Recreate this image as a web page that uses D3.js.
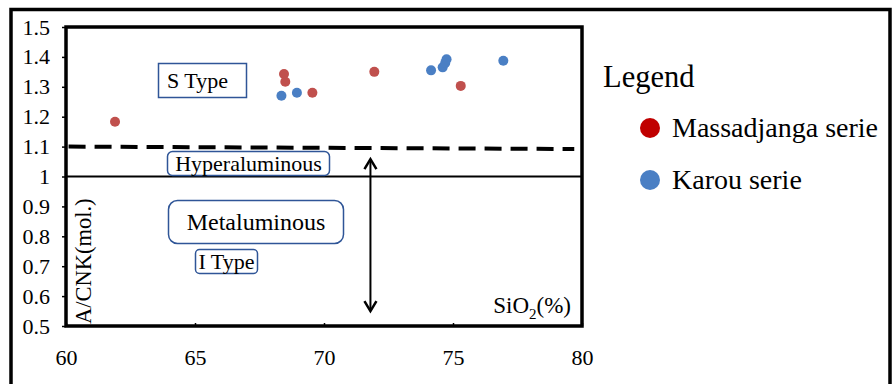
<!DOCTYPE html>
<html>
<head>
<meta charset="utf-8">
<script src="https://cdn.jsdelivr.net/npm/d3@7"></script>
<style>
  body { margin: 0; background: #fff; }
  svg text { font-family: "Liberation Serif", "Times New Roman", serif; fill: #000; }
</style>
</head>
<body>
<svg id="chart" width="896" height="384"></svg>
<script>
// data
const massadjangaSiO2 = [61.9, 68.45, 68.5, 69.55, 71.95, 75.3];
const massadjangaACNK = [1.183, 1.343, 1.317, 1.28, 1.35, 1.303];
const karouSiO2 = [68.35, 68.95, 74.15, 74.6, 74.7, 74.75, 76.95];
const karouACNK = [1.27, 1.28, 1.355, 1.365, 1.38, 1.392, 1.387];
const xTicks = [60, 65, 70, 75, 80];
const yTicks = [0.5, 0.6, 0.7, 0.8, 0.9, 1, 1.1, 1.2, 1.3, 1.4, 1.5];
const seriesNames = ["Massadjanga serie", "Karou serie"];

const svg = d3.select("#chart");
const plotLeft = 66, plotRight = 582, plotTop = 27, plotBottom = 326;

const x = d3.scaleLinear().domain([60, 80]).range([plotLeft, plotRight]);
const y = d3.scaleLinear().domain([0.5, 1.5]).range([plotBottom, plotTop]);

// outer frame
svg.append("path")
    .attr("d", "M11,384 L11,9.5 L890,9.5 L890,384")
    .attr("fill", "none")
    .attr("stroke", "#000")
    .attr("stroke-width", 3.5);

// y axis
const yAxis = svg.append("g")
    .attr("transform", `translate(${plotLeft},0)`)
    .call(d3.axisLeft(y).tickValues(yTicks).tickSize(4).tickPadding(12).tickFormat(d3.format("")));
yAxis.select(".domain").remove();
yAxis.selectAll("text").style("font-size", "22px");
yAxis.selectAll("line").attr("stroke-width", 1.5);

// x axis
const xAxis = svg.append("g")
    .attr("transform", `translate(0,${plotBottom})`)
    .call(d3.axisBottom(x).tickValues(xTicks).tickSize(-3).tickPadding(23));
xAxis.select(".domain").remove();
xAxis.selectAll("text").style("font-size", "22px");
xAxis.selectAll("line").attr("stroke-width", 1.5);

// plot frame
svg.append("rect")
    .attr("x", plotLeft).attr("y", plotTop)
    .attr("width", plotRight - plotLeft).attr("height", plotBottom - plotTop)
    .attr("fill", "none")
    .attr("stroke", "#000")
    .attr("stroke-width", 3.5);

// A/CNK = 1 line
svg.append("line")
    .attr("x1", x(60)).attr("x2", x(80))
    .attr("y1", y(1)).attr("y2", y(1))
    .attr("stroke", "#000")
    .attr("stroke-width", 2);

// A/CNK = 1.1 dashed line
svg.append("line")
    .attr("x1", x(60.1)).attr("x2", x(79.7))
    .attr("y1", y(1.1)).attr("y2", y(1.092))
    .attr("stroke", "#000")
    .attr("stroke-width", 4)
    .attr("stroke-dasharray", "17,9");

// double arrow
const ax = x(71.8);
svg.append("line")
    .attr("x1", ax).attr("x2", ax)
    .attr("y1", y(1.058)).attr("y2", y(0.55))
    .attr("stroke", "#000")
    .attr("stroke-width", 2);
svg.append("path")
    .attr("d", `M${ax - 6},${y(1.058) + 10} L${ax},${y(1.058)} L${ax + 6},${y(1.058) + 10}`)
    .attr("fill", "none").attr("stroke", "#000").attr("stroke-width", 2.5);
svg.append("path")
    .attr("d", `M${ax - 6},${y(0.55) - 10} L${ax},${y(0.55)} L${ax + 6},${y(0.55) - 10}`)
    .attr("fill", "none").attr("stroke", "#000").attr("stroke-width", 2.5);

// labelled boxes
function box(x0, y0, w, h, r, label, size, tx) {
    svg.append("rect")
        .attr("x", x0).attr("y", y0)
        .attr("width", w).attr("height", h)
        .attr("rx", r)
        .attr("fill", "#fff")
        .attr("stroke", "#2f5597")
        .attr("stroke-width", 1.5);
    svg.append("text")
        .attr("x", tx === undefined ? x0 + w / 2 : tx)
        .attr("y", y0 + h / 2 + size * 0.33)
        .attr("text-anchor", tx === undefined ? "middle" : "start")
        .style("font-size", size + "px")
        .text(label);
}
box(158.5, 63.5, 88, 34, 0, "S Type", 22, 167);
box(167.5, 151.5, 162, 24, 5, "Hyperaluminous", 22);
box(168.5, 200.5, 175, 43, 9, "Metaluminous", 24);
box(195.5, 249.5, 62, 24, 4, "I Type", 22);

// axis titles
svg.append("text")
    .attr("transform", `translate(91,324) rotate(-90)`)
    .style("font-size", "22.5px")
    .text("A/CNK(mol.)");

const sio2 = svg.append("text")
    .attr("x", 571).attr("y", 313)
    .attr("text-anchor", "end")
    .style("font-size", "23px");
sio2.append("tspan").text("SiO");
sio2.append("tspan").attr("dy", 6).style("font-size", "15px").text("2");
sio2.append("tspan").attr("dy", -6).text("(%)");

// points
const massadjanga = massadjangaSiO2.map((v, i) => ({ x: v, y: massadjangaACNK[i] }));
const karou = karouSiO2.map((v, i) => ({ x: v, y: karouACNK[i] }));

svg.append("g").selectAll("circle")
    .data(massadjanga)
    .enter()
    .append("circle")
    .attr("cx", d => x(d.x))
    .attr("cy", d => y(d.y))
    .attr("r", 5)
    .attr("fill", "#c0504d");

svg.append("g").selectAll("circle")
    .data(karou)
    .enter()
    .append("circle")
    .attr("cx", d => x(d.x))
    .attr("cy", d => y(d.y))
    .attr("r", 5)
    .attr("fill", "#4a7fc4");

// legend
const legend = svg.append("g");
legend.append("text")
    .attr("x", 603).attr("y", 87)
    .style("font-size", "30.5px")
    .text("Legend");

const legendColors = ["#c00000", "#4a7fc4"];
seriesNames.forEach((name, i) => {
    legend.append("circle")
        .attr("cx", 650).attr("cy", 128 + i * 52)
        .attr("r", 10)
        .attr("fill", legendColors[i]);
    legend.append("text")
        .attr("x", 672).attr("y", 137 + i * 52)
        .style("font-size", "28px")
        .text(name);
});
</script>
</body>
</html>
